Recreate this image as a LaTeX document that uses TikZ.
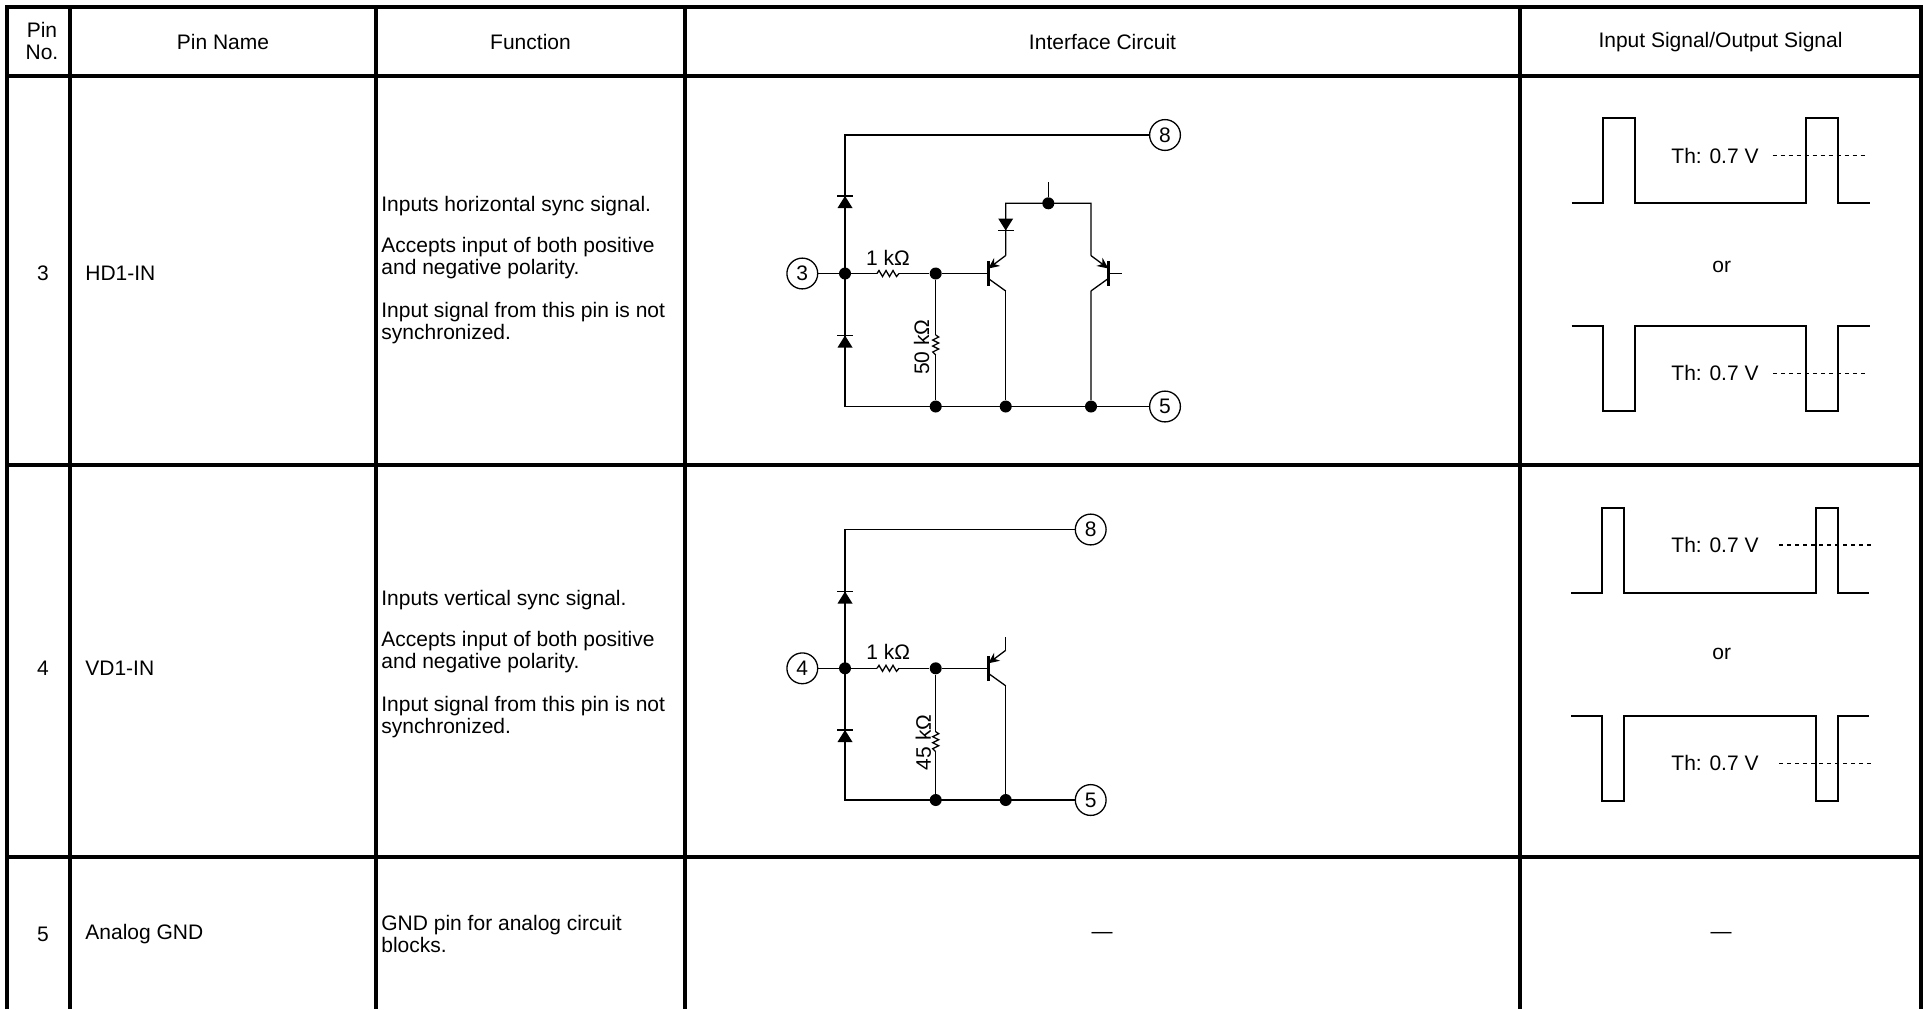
\documentclass[tikz,border=0pt]{standalone}
\usepackage{fontspec}
\setmainfont{Liberation Sans}
\usetikzlibrary{arrows.meta}
\tikzset{
  tline/.style={line width=1.6pt},
  cwire/.style={line width=0.65pt},
  wave/.style={line width=1pt},
  thr/.style={line width=0.6pt, dash pattern=on 2pt off 2pt},
  txt/.style={font=\fontsize{10.5}{11}\selectfont, inner sep=0pt},
  pinc/.style={circle, draw, line width=0.65pt, minimum size=15.4pt, inner sep=0pt},
  jdot/.style={circle, fill, minimum size=6pt, inner sep=0pt},
  diodeup/.pic={
    \fill (-7.5,6) -- (7.5,6) -- (0,-6) -- cycle;
    \draw[line width=0.9pt] (-8,-6) -- (8,-6);
  },
  resh/.pic={
    \draw[cwire] (-11,0) -- (-9,-3) -- (-5.5,3) -- (-2,-3) -- (1.5,3) -- (5,-3) -- (8.5,3) -- (11,0);
    \coordinate (-l) at (-11,0);
    \coordinate (-r) at (11,0);
  },
  resv/.pic={
    \draw[cwire] (0,-10) -- (3,-8) -- (-3,-5) -- (3,-2) -- (-3,1) -- (3,4) -- (-3,7) -- (0,10);
    \coordinate (-t) at (0,-10);
    \coordinate (-b) at (0,10);
  },
  pnp/.pic={
    \draw[line width=1.2pt] (0,-12.5) -- (0,12.5);
    \draw[cwire, {Stealth[length=5.5pt,width=5pt]}-] (0,-5) -- (17.4,-18);
    \draw[cwire] (0,5) -- (17.4,17.5);
    \coordinate (-b) at (0,0);
    \coordinate (-e) at (17.4,-18);
    \coordinate (-c) at (17.4,17.5);
  }
}

\begin{document}
\begin{tikzpicture}[x=0.5pt, y=-0.5pt]
\useasboundingbox (0,0) rectangle (1925,1009);
% table
\draw[tline] (7,1009) -- (7,7) -- (1921,7) -- (1921,1009);
\foreach \cx in {70,376,685,1520}
  \draw[tline] (\cx,7) -- (\cx,1009);
\foreach \ry in {76,465,857}
  \draw[tline] (7,\ry) -- (1921,\ry);
\node[txt, align=center] (hpin) at (42,41) {Pin\\No.};
\node[txt] (hname) at (223,42) {Pin Name};
\node[txt] (hfunc) at (530.5,42) {Function};
\node[txt] (hcirc) at (1102.5,42) {Interface Circuit};
\node[txt] (hsig) at (1720.5,42) {Input Signal/Output Signal};

% pin 3
\node[txt] (no3) at (43,273) {3};
\node[txt, anchor=west] (nm3) at (85,273) {HD1-IN};
\node[txt, anchor=west] (f3a) at (381,206) {Inputs horizontal sync signal.};
\node[txt, anchor=west, align=left] (f3b) at (381,258) {Accepts input of both positive\\and negative polarity.};
\node[txt, anchor=west, align=left] (f3c) at (381,323.5) {Input signal from this pin is not\\synchronized.};

\node[pinc, txt] (p3) at (802.3,273.5) {3};
\node[pinc, txt] (p8a) at (1165,135) {8};
\node[pinc, txt] (p5a) at (1165,406.5) {5};
\coordinate (c1tl) at (845,135);
\coordinate (c1bl) at (845,406.5);
\node[jdot] (n1) at (845,273.5) {};
\node[jdot] (n2) at (935.7,273.5) {};
\node[jdot] (n3) at (935.7,406.5) {};
\node[jdot] (n4) at (1005.7,406.5) {};
\node[jdot] (n5) at (1091,406.5) {};
\node[jdot] (n6) at (1048.3,203.3) {};
\coordinate (c1ta) at (1005.7,203.3);
\coordinate (c1tb) at (1091,203.3);
\coordinate (c1tp) at (1048.3,181.7);
\coordinate (c1bs) at (1121.7,273.5);
\pic (r1) at (888,273.5) {resh};
\pic (r2) at (935.7,345) {resv};
\pic (q1) at (988.3,273.5) {pnp};
\pic[xscale=-1] (q2) at (1108.3,273.5) {pnp};
\node[txt] (r1lab) at (888,257.5) {1 kΩ};
\node[txt, rotate=90] (r2lab) at (921.5,347) {50 kΩ};
\draw[cwire] (p8a) -- (c1tl) -- (c1bl) -- (p5a);
\draw[cwire] (p3) -- (n1) -- (r1-l);
\draw[cwire] (r1-r) -- (n2) -- (q1-b);
\draw[cwire] (n2) -- (r2-t);
\draw[cwire] (r2-b) -- (n3);
\draw[cwire] (q1-e) -- (c1ta) -- (c1tb) -- (q2-e);
\draw[cwire] (n6) -- (c1tp);
\draw[cwire] (q1-c) -- (n4);
\draw[cwire] (q2-c) -- (n5);
\draw[cwire] (q2-b) -- (c1bs);
\pic at (845,202) {diodeup};
\pic at (845,341.5) {diodeup};
\pic[rotate=180] at (1005.7,224.5) {diodeup};

\draw[wave] (1571.7,203.3) -- (1603.3,203.3) -- (1603.3,118.3) -- (1635,118.3) -- (1635,203.3) -- (1806,203.3) -- (1806,118.3) -- (1837.7,118.3) -- (1837.7,203.3) -- (1870,203.3);
\node[txt] (th3a) at (1715,155.7) {Th: 0.7 V};
\draw[thr] (1772.7,155.7) -- (1868.3,155.7);
\node[txt] (or3) at (1721.7,266.7) {or};
\draw[wave] (1571.7,325.7) -- (1603.3,325.7) -- (1603.3,410.7) -- (1635,410.7) -- (1635,325.7) -- (1806,325.7) -- (1806,410.7) -- (1837.7,410.7) -- (1837.7,325.7) -- (1870,325.7);
\node[txt] (th3b) at (1715,373.3) {Th: 0.7 V};
\draw[thr] (1773,373.3) -- (1868.3,373.3);

% pin 4
\node[txt] (no4) at (43,668) {4};
\node[txt, anchor=west] (nm4) at (85,668) {VD1-IN};
\node[txt, anchor=west] (f4a) at (381,600.5) {Inputs vertical sync signal.};
\node[txt, anchor=west, align=left] (f4b) at (381,652) {Accepts input of both positive\\and negative polarity.};
\node[txt, anchor=west, align=left] (f4c) at (381,717.5) {Input signal from this pin is not\\synchronized.};

\node[pinc, txt] (p4) at (802.3,668.3) {4};
\node[pinc, txt] (p8b) at (1090.7,529.5) {8};
\node[pinc, txt] (p5b) at (1090.7,800) {5};
\coordinate (c2tl) at (845,529.5);
\coordinate (c2bl) at (845,800);
\node[jdot] (m1) at (845,668.3) {};
\node[jdot] (m2) at (935.7,668.3) {};
\node[jdot] (m3) at (935.7,800) {};
\node[jdot] (m4) at (1005.7,800) {};
\coordinate (c2es) at (1005.7,636.7);
\pic (r3) at (888,668.3) {resh};
\pic (r4) at (935.7,741.7) {resv};
\pic (q3) at (988.3,668.3) {pnp};
\node[txt] (r3lab) at (888.3,651.7) {1 kΩ};
\node[txt, rotate=90] (r4lab) at (923.3,742.3) {45 kΩ};
\draw[cwire] (p8b) -- (c2tl) -- (c2bl) -- (p5b);
\draw[cwire] (p4) -- (m1) -- (r3-l);
\draw[cwire] (r3-r) -- (m2) -- (q3-b);
\draw[cwire] (m2) -- (r4-t);
\draw[cwire] (r4-b) -- (m3);
\draw[cwire] (q3-e) -- (c2es);
\draw[cwire] (q3-c) -- (m4);
\pic at (845,597.5) {diodeup};
\pic at (845,736) {diodeup};

\draw[wave] (1571,592.7) -- (1602.3,592.7) -- (1602.3,507.7) -- (1624,507.7) -- (1624,592.7) -- (1816,592.7) -- (1816,507.7) -- (1837.7,507.7) -- (1837.7,592.7) -- (1869.3,592.7);
\node[txt] (th4a) at (1715,545) {Th: 0.7 V};
\draw[thr] (1779.3,545) -- (1870.7,545);
\node[txt] (or4) at (1721.7,654.3) {or};
\draw[wave] (1571,715.7) -- (1602.3,715.7) -- (1602.3,800.7) -- (1624,800.7) -- (1624,715.7) -- (1816,715.7) -- (1816,800.7) -- (1837.7,800.7) -- (1837.7,715.7) -- (1869.3,715.7);
\node[txt] (th4b) at (1715,763.3) {Th: 0.7 V};
\draw[thr] (1779.3,763.3) -- (1870.7,763.3);

% pin 5
\node[txt] (no5) at (43,934) {5};
\node[txt, anchor=west] (nm5) at (85,934) {Analog GND};
\node[txt, anchor=west, align=left] (f5) at (381,934) {GND pin for analog circuit\\blocks.};
\node[txt] (c5) at (1102,935) {—};
\node[txt] (s5) at (1721,935) {—};
\end{tikzpicture}
\end{document}
